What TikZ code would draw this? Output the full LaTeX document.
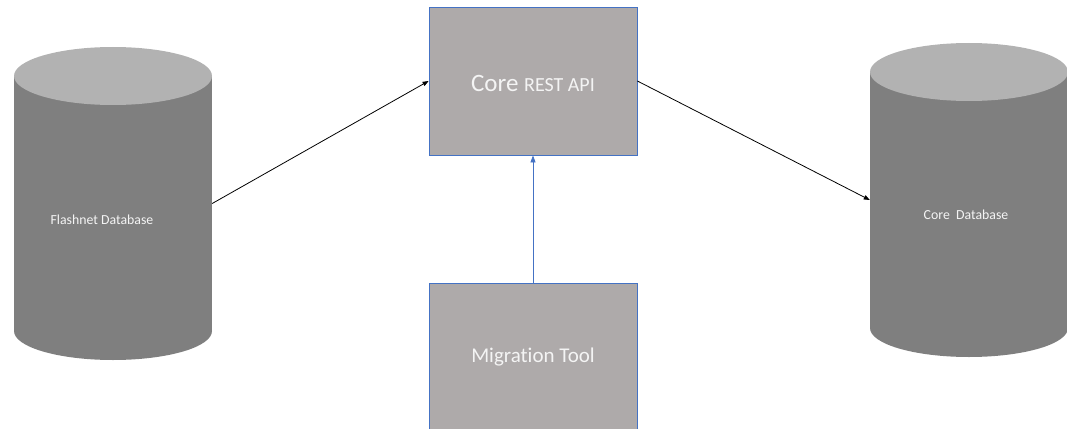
\documentclass[tikz,border=0pt]{standalone}
\usepackage{fontspec}
\setmainfont{Carlito}[Ligatures=NoCommon]
\usetikzlibrary{arrows.meta}
\definecolor{dbbody}{HTML}{7F7F7F}
\definecolor{dbtop}{HTML}{B2B2B2}
\definecolor{boxfill}{HTML}{AEAAAA}
\definecolor{boxline}{HTML}{4472C4}
\definecolor{txt}{HTML}{F4F4F4}
\tikzset{
  apibox/.style={draw=boxline, line width=0.8pt, fill=boxfill, minimum width=208pt, minimum height=148pt, inner sep=0pt},
  cylbody/.style={fill=dbbody, draw=none, minimum width=198pt, inner sep=0pt},
  lbl/.style={text=txt, inner sep=0pt},
  conn/.style={line width=0.8pt, -{Triangle[length=6pt,width=4.5pt]}},
  bconn/.style={line width=0.8pt, draw=boxline, -{Triangle[length=7pt,width=5pt,fill=boxline]}}
}
\begin{document}
\begin{tikzpicture}[x=1pt,y=-1pt]
\useasboundingbox (0,0) rectangle (1067,428);
\clip (0,0) rectangle (1067,428);
% left cylinder
\fill[dbbody] (113,331) ellipse [x radius=99, y radius=29];
\node[cylbody, minimum height=255pt] (fdb) at (113,203.5) {};
\fill[dbtop] (113,76) ellipse [x radius=99, y radius=29];
\node[lbl, font=\fontsize{13.8}{16}\selectfont] (fdbl) at (102,220) {Flashnet Database};
% right cylinder
\fill[dbbody] (969,328) ellipse [x radius=99, y radius=29];
\node[cylbody, minimum height=256pt] (cdb) at (969,200) {};
\fill[dbtop] (969,72) ellipse [x radius=99, y radius=29];
\node[lbl, font=\fontsize{13.8}{16}\selectfont] (cdbl) at (966,215) {Core\ \ Database};
% boxes
\node[apibox] (api) at (533,81) {};
\node[lbl] (apil) at (533,83) {\fontsize{25}{30}\selectfont Core \fontsize{20}{26}\selectfont REST API};
\node[apibox, minimum height=160pt] (mig) at (533,363) {};
\node[lbl, font=\fontsize{21}{26}\selectfont] (migl) at (533,357) {Migration Tool};
% connectors
\draw[conn] (fdb.east) -- (api.west);
\draw[conn] (api.east) -- (cdb.west);
\draw[bconn] (mig.north) -- (api.south);
\end{tikzpicture}
\end{document}
